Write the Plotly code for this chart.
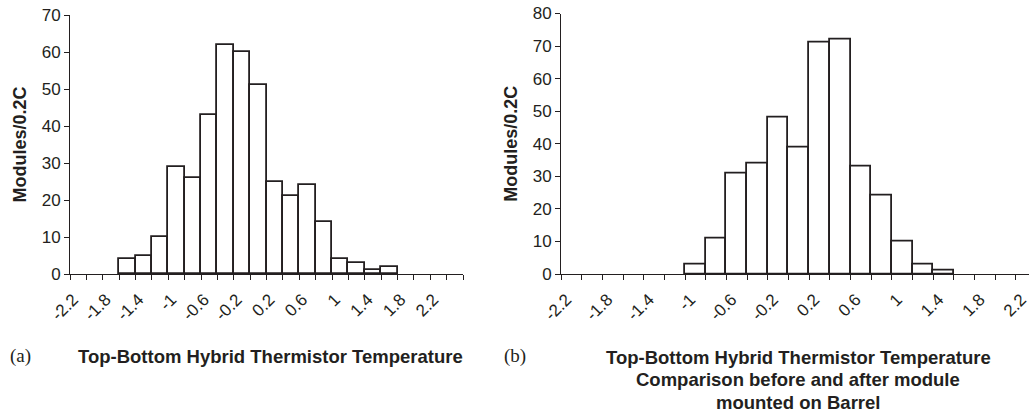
import plotly.graph_objects as go

W, H = 1029, 413

# ---- data ----
bins_a = [-2.2, -2.0, -1.8, -1.6, -1.4, -1.2, -1.0, -0.8, -0.6, -0.4, -0.2, 0.0,
          0.2, 0.4, 0.6, 0.8, 1.0, 1.2, 1.4, 1.6, 1.8, 2.0, 2.2, 2.4]
counts_a = [0, 0, 0, 4, 5, 10, 29, 26, 43, 62, 60, 51,
            25, 21, 24, 14, 4, 3, 1, 2, 0, 0, 0, 0]

bins_b = [-2.2, -2.0, -1.8, -1.6, -1.4, -1.2, -1.0, -0.8, -0.6, -0.4, -0.2, 0.0,
          0.2, 0.4, 0.6, 0.8, 1.0, 1.2, 1.4, 1.6, 1.8, 2.0, 2.2]
counts_b = [0, 0, 0, 0, 0, 0, 3, 11, 31, 34, 48, 39,
            71, 72, 33, 24, 10, 3, 1, 0, 0, 0, 0]

tick_labels = ["-2.2", "-1.8", "-1.4", "-1", "-0.6", "-0.2", "0.2", "0.6", "1", "1.4", "1.8", "2.2"]
tick_values = [-2.2, -1.8, -1.4, -1.0, -0.6, -0.2, 0.2, 0.6, 1.0, 1.4, 1.8, 2.2]

y_title = "Modules/0.2C"
caption_a = "Top-Bottom Hybrid Thermistor Temperature"
caption_b_lines = ["Top-Bottom Hybrid Thermistor Temperature",
                   "Comparison before and after module",
                   "mounted on Barrel"]

BIN_W = 0.2
SANS = "Liberation Sans, Arial, sans-serif"
SERIF = "Liberation Serif, Times New Roman, serif"
INK = "#231f20"

# plot-area geometry (pixels)
ML, MR, MT, MB = 70, 0, 13, 139
PW = W - ML - MR
PH = H - MT - MB
BASE = H - MB  # pixel row of the x axes


def fx(p):
    return (p - ML) / PW


def fy(p):
    return (BASE - p) / PH


def shown(vals):
    return [v if v > 0 else None for v in vals]


fig = go.Figure()
fig.add_trace(go.Bar(x=bins_a, y=shown(counts_a), width=BIN_W, xaxis="x", yaxis="y",
                     marker=dict(color="white", line=dict(color=INK, width=1.8)),
                     showlegend=False, hoverinfo="x+y"))
fig.add_trace(go.Bar(x=bins_b, y=shown(counts_b), width=BIN_W, xaxis="x2", yaxis="y2",
                     marker=dict(color="white", line=dict(color=INK, width=1.8)),
                     showlegend=False, hoverinfo="x+y"))

edges_a = [b - BIN_W / 2 for b in bins_a] + [bins_a[-1] + BIN_W / 2]
edges_b = [b - BIN_W / 2 for b in bins_b] + [bins_b[-1] + BIN_W / 2]


def xaxis_cfg(domain, rng, edges, anchor):
    return dict(domain=domain, range=rng, anchor=anchor, automargin=False,
                tickmode="array", tickvals=tick_values, ticktext=tick_labels,
                tickangle=-45, ticks="outside", ticklen=8, tickcolor="rgba(0,0,0,0)",
                ticklabelshift=-5, ticklabeloverflow="allow",
                tickfont=dict(family=SANS, size=17, color=INK),
                showline=True, linecolor=INK, linewidth=1,
                showgrid=False, zeroline=False,
                minor=dict(tickmode="array", tickvals=edges, ticks="outside",
                           ticklen=5, tickcolor=INK, tickwidth=1, showgrid=False))


def yaxis_cfg(domain, rng, anchor):
    return dict(domain=domain, range=rng, anchor=anchor, dtick=10, automargin=False,
                ticks="outside", ticklen=5, tickcolor=INK, tickwidth=1,
                tickfont=dict(family=SANS, size=17, color=INK),
                showline=True, linecolor=INK, linewidth=1,
                showgrid=False, zeroline=False,
                title=dict(text="<b>" + y_title + "</b>", standoff=10,
                           font=dict(family=SANS, size=18, color=INK)))


annotations = [
    dict(text="(a)", x=fx(8), y=fy(356), xref="paper", yref="paper",
         xanchor="left", yanchor="middle", showarrow=False,
         font=dict(family=SERIF, size=19, color=INK)),
    dict(text="<b>" + caption_a + "</b>", x=fx(270), y=fy(356), xref="paper", yref="paper",
         xanchor="center", yanchor="middle", showarrow=False,
         font=dict(family=SANS, size=18.5, color=INK)),
    dict(text="(b)", x=fx(502), y=fy(356), xref="paper", yref="paper",
         xanchor="left", yanchor="middle", showarrow=False,
         font=dict(family=SERIF, size=19, color=INK)),
]
for i, line in enumerate(caption_b_lines):
    annotations.append(dict(text="<b>" + line + "</b>", x=fx(798), y=fy(357 + 22.5 * i),
                            xref="paper", yref="paper", xanchor="center", yanchor="middle",
                            showarrow=False, font=dict(family=SANS, size=18.5, color=INK)))

fig.update_layout(
    width=W, height=H,
    margin=dict(l=ML, r=MR, t=MT, b=MB),
    paper_bgcolor="white", plot_bgcolor="white",
    bargap=0,
    xaxis=xaxis_cfg([fx(70), fx(463)], [-2.3, 2.5], edges_a, "y"),
    yaxis=yaxis_cfg([0, fy(15)], [0, 70], "x"),
    xaxis2=xaxis_cfg([fx(561), 1.0], [-2.3, -2.3 + (1029 - 561) / 20.68 * 0.2], edges_b, "y2"),
    yaxis2=yaxis_cfg([0, fy(13.5)], [0, 80], "x2"),
    annotations=annotations,
)

fig.write_html("out.html", config={"displayModeBar": False},
               post_script="document.body.style.margin='0';")
